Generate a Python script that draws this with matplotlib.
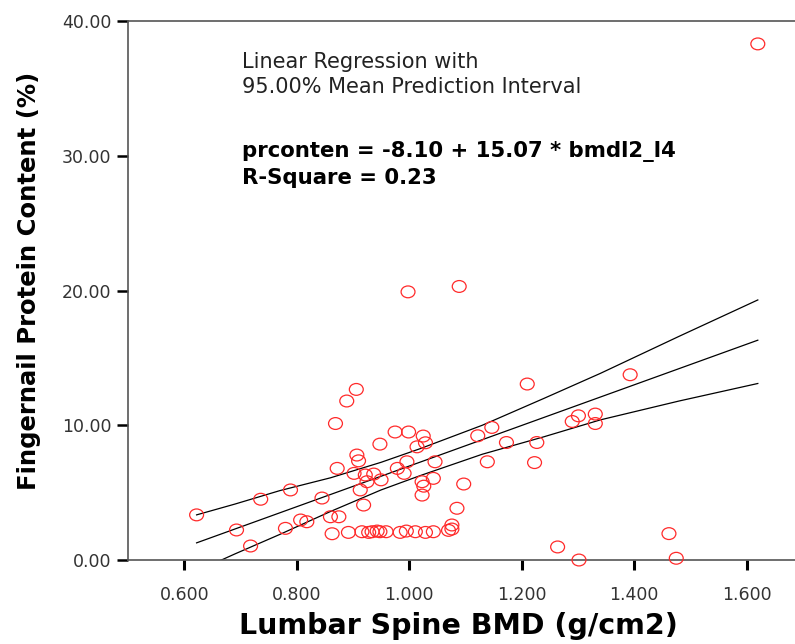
"""Fingernail protein content vs lumbar spine BMD, linear fit with 95% mean CI."""

import matplotlib
matplotlib.use("Agg")
import matplotlib.pyplot as plt
from matplotlib.markers import MarkerStyle
from matplotlib.transforms import Affine2D
import numpy as np

plt.rcParams["font.family"] = ["DejaVu Sans"]

# scatter points
bmd = [
    0.622, 0.693, 0.718, 0.736, 0.780, 0.789, 0.807, 0.818, 0.845, 0.860, 0.875, 0.863,
    0.892, 0.869, 0.889, 0.906, 0.872, 0.907, 0.910, 0.902, 0.922, 0.925, 0.913, 0.919, 0.937, 0.948,
    0.975, 0.999, 0.979, 0.991, 0.996, 1.014, 1.025, 1.029, 1.046, 1.043, 1.023, 1.026, 1.023,
    1.097, 1.085, 0.998, 1.089,
    1.122, 1.147, 1.139, 1.173, 1.210, 1.227, 1.223, 1.290, 1.301, 1.331, 1.331, 1.393,
    1.264, 1.302, 1.462, 1.475, 1.620,
    0.916, 0.928, 0.934, 0.943, 0.948, 0.959, 0.984, 0.995, 1.011, 1.029, 1.043, 1.070, 1.076, 1.076,
    0.950,
]
protein = [
    3.35, 2.23, 1.04, 4.51, 2.35, 5.20, 2.97, 2.84, 4.60, 3.21, 3.21, 1.95,
    2.05, 10.13, 11.80, 12.66, 6.80, 7.79, 7.36, 6.43, 6.31, 5.81, 5.20, 4.08, 6.38, 8.60,
    9.50, 9.50, 6.80, 6.43, 7.29, 8.40, 9.20, 8.70, 7.29, 6.06, 5.81, 5.48, 4.82,
    5.64, 3.84, 19.90, 20.30,
    9.22, 9.84, 7.29, 8.72, 13.06, 8.72, 7.23, 10.28, 10.70, 10.83, 10.13, 13.75,
    0.97, 0.00, 1.96, 0.13, 38.30,
    2.10, 2.05, 2.10, 2.15, 2.10, 2.10, 2.05, 2.15, 2.10, 2.05, 2.10, 2.20, 2.30, 2.60,
    5.95,
]

# regression as printed on the chart
intercept = -8.10
slope = 15.07

# 95% mean prediction band
band_x = [0.622, 0.69, 0.77, 0.86, 0.95, 1.02, 1.13, 1.24, 1.34, 1.48, 1.620]
band_upper = [3.35, 4.15, 5.15, 6.10, 7.25, 8.27, 10.00, 12.00, 13.85, 16.60, 19.30]
band_lower = [-0.83, 0.45, 1.90, 3.60, 5.20, 6.27, 7.85, 9.15, 10.40, 11.80, 13.10]

y_ticks = [0, 10, 20, 30, 40]
x_ticks = [0.6, 0.8, 1.0, 1.2, 1.4, 1.6]

fig = plt.figure(figsize=(7.95, 6.44), dpi=100)
ax = fig.add_axes([0.161, 0.1304, 0.8488, 0.8370])

fit_x = np.array([min(bmd), max(bmd)])
ax.plot(fit_x, intercept + slope * fit_x, color="black", lw=0.9, zorder=2)
ax.plot(band_x, band_upper, color="black", lw=0.9, zorder=2)
ax.plot(band_x, band_lower, color="black", lw=0.9, zorder=2)

# the source image is stretched sideways, so the circles come out slightly wide
wide_circle = MarkerStyle("o", transform=Affine2D().scale(1.0, 0.85))
ax.scatter(bmd, protein, s=100, marker=wide_circle, facecolors="none",
           edgecolors="#ff2a2a", linewidths=0.9, zorder=3, clip_on=False)

ax.set_xlim(0.50, 1.70)
ax.set_ylim(0, 40)
ax.set_xticks(x_ticks)
ax.set_xticklabels([f"{v:.3f}" for v in x_ticks])
ax.set_yticks(y_ticks)
ax.set_yticklabels([f"{v:.2f}" for v in y_ticks])

for side in ("top", "left", "bottom"):
    ax.spines[side].set_color("#555555")
    ax.spines[side].set_linewidth(1.2)
ax.spines["right"].set_visible(False)

ax.tick_params(axis="x", direction="out", length=7, width=2.2, color="black",
               labelsize=12.5, labelcolor="#333333", pad=12)
ax.tick_params(axis="y", direction="out", length=8, width=1.8, color="black",
               labelsize=12.5, labelcolor="#333333", pad=4)

ax.set_xlabel("Lumbar Spine BMD (g/cm2)", fontsize=20.5, fontweight="bold")
ax.xaxis.set_label_coords(0.49, -0.097)
ax.set_ylabel("Fingernail Protein Content (%)", fontsize=17.5, fontweight="bold")
ax.yaxis.set_label_coords(-0.129, 0.517)

ax.text(0.703, 36.96, "Linear Regression with", fontsize=15, va="center", color="#222222")
ax.text(0.703, 35.1, "95.00% Mean Prediction Interval", fontsize=15, va="center", color="#222222")
ax.text(0.703, 30.28, "prconten = -8.10 + 15.07 * bmdl2_l4", fontsize=15.3,
        fontweight="bold", va="center")
ax.text(0.703, 28.35, "R-Square = 0.23", fontsize=15.3, fontweight="bold", va="center")

fig.savefig("out.png", dpi=100)
